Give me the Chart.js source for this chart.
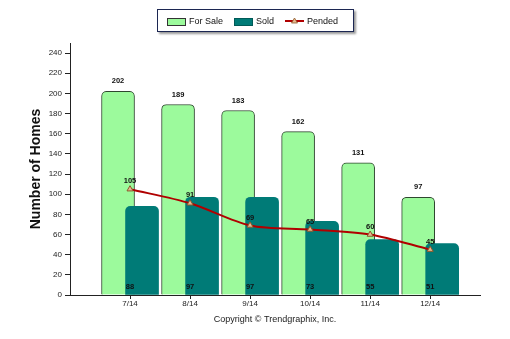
<!doctype html>
<html>

<head>
	<title>Number of Homes - For Sale, Sold, Pended</title>
	<script src="https://cdn.jsdelivr.net/npm/chart.js@4/dist/chart.umd.min.js"></script>
	<style>
		body {
			margin: 0;
			background: #fff;
		}
		#holder {
			position: relative;
			width: 510px;
			height: 339px;
		}
		.legend {
			position: absolute;
			left: 157px;
			top: 9px;
			width: 195px;
			height: 21px;
			border: 1px solid #1c2752;
			background: #fff;
			box-shadow: 2px 2px 2px #9a9a9a;
			font: 9px 'Liberation Sans', Arial, sans-serif;
			color: #111;
		}
		.legend span {
			position: absolute;
		}
		.legend .key {
			top: 8px;
			width: 17px;
			height: 6px;
			border: 1px solid #333;
		}
		.legend .txt {
			top: 5px;
			height: 12px;
			line-height: 12px;
			white-space: nowrap;
		}
	</style>
</head>

<body>
	<div id="holder">
		<canvas id="chart" width="510" height="339"></canvas>
		<div class="legend">
			<span class="key" style="left:9px;background:#9cfa9c;"></span>
			<span class="txt" style="left:31px;">For Sale</span>
			<span class="key" style="left:76px;background:#007b77;border-color:#005a57;"></span>
			<span class="txt" style="left:98px;">Sold</span>
			<span style="left:127px;top:6px;width:19px;height:10px;">
				<svg width="19" height="10"><line x1="0" y1="5" x2="19" y2="5" stroke="#b00000" stroke-width="2"/><path d="M9.5 2 L12.5 7 L6.5 7 Z" fill="#e8b890" stroke="#8b5a2b" stroke-width="0.8"/></svg>
			</span>
			<span class="txt" style="left:149px;">Pended</span>
		</div>
	</div>
	<script>
		var months = ['7/14', '8/14', '9/14', '10/14', '11/14', '12/14'];
		var forSale = [202, 189, 183, 162, 131, 97];
		var sold = [88, 97, 97, 73, 55, 51];
		var pended = [105, 91, 69, 65, 60, 45];
		var yTicksMax = 240;

		var FONT = "'Liberation Sans', Arial, sans-serif";

		// the two bar series sit side by side and overlap a little around each month
		var barShift = 0.2;

		function points(values, shift) {
			return values.map(function(v, i) {
				return {x: i + shift, y: v};
			});
		}

		// numbers over the bars, at the foot of the sold bars and above the pended points
		var valueLabels = {
			id: 'valueLabels',
			afterDatasetsDraw: function(chart) {
				var ctx = chart.ctx;
				var xs = chart.scales.x;
				var ys = chart.scales.y;
				ctx.save();
				ctx.font = 'bold 7.5px ' + FONT;
				ctx.fillStyle = '#111';
				ctx.textAlign = 'center';
				ctx.textBaseline = 'middle';
				chart.getDatasetMeta(0).data.forEach(function(bar, i) {
					ctx.fillText(forSale[i], bar.x, bar.y - 10);
				});
				sold.forEach(function(v, i) {
					ctx.fillText(v, xs.getPixelForValue(i), ys.getPixelForValue(0) - 8);
				});
				chart.getDatasetMeta(2).data.forEach(function(pt, i) {
					ctx.fillText(pended[i], pt.x, pt.y - 8);
				});
				ctx.restore();
			}
		};

		window.onload = function() {
			var chartEl = document.getElementById('chart');
			window.homesChart = new Chart(chartEl, {
				type: 'bar',
				data: {
					datasets: [{
						label: 'For Sale',
						data: points(forSale, -barShift),
						backgroundColor: '#9cfa9c',
						borderColor: '#2f472f',
						borderWidth: 1,
						borderRadius: 5,
						barThickness: 33,
						grouped: false,
						order: 2
					}, {
						label: 'Sold',
						data: points(sold, barShift),
						backgroundColor: '#007b77',
						borderWidth: 0,
						borderRadius: 5,
						barThickness: 33,
						grouped: false,
						order: 1
					}, {
						type: 'line',
						label: 'Pended',
						data: points(pended, 0),
						borderColor: '#b00000',
						borderWidth: 2,
						tension: 0.3,
						fill: false,
						pointStyle: 'triangle',
						pointRadius: 3.5,
						pointBackgroundColor: '#e8b890',
						pointBorderColor: '#8b5a2b',
						pointBorderWidth: 1,
						order: 0
					}]
				},
				options: {
					responsive: false,
					animation: false,
					devicePixelRatio: 1,
					layout: {
						padding: {left: 24, right: 30, top: 43, bottom: 0}
					},
					plugins: {
						legend: {display: false},
						tooltip: {enabled: false}
					},
					scales: {
						x: {
							type: 'linear',
							min: -1,
							max: 5.83,
							offset: false,
							afterFit: function(scale) {
								scale.height = 44;
							},
							afterBuildTicks: function(scale) {
								scale.ticks = scale.ticks.filter(function(t) {
									return t.value >= 0 && t.value < months.length;
								});
							},
							ticks: {
								stepSize: 1,
								autoSkip: false,
								maxRotation: 0,
								padding: 0,
								color: '#222',
								font: {family: FONT, size: 8},
								callback: function(value) {
									return months[value];
								}
							},
							grid: {
								offset: false,
								drawOnChartArea: false,
								tickLength: 4,
								color: '#222'
							},
							border: {color: '#222', width: 1},
							title: {
								display: true,
								text: 'Copyright © Trendgraphix, Inc.',
								color: '#222',
								font: {family: FONT, size: 9},
								padding: {top: 0, bottom: 14}
							}
						},
						y: {
							min: 0,
							max: 250,
							afterFit: function(scale) {
								scale.width = 46;
							},
							afterBuildTicks: function(scale) {
								scale.ticks = scale.ticks.filter(function(t) {
									return t.value <= yTicksMax;
								});
							},
							ticks: {
								stepSize: 20,
								padding: 3,
								color: '#222',
								font: {family: FONT, size: 8}
							},
							grid: {
								drawOnChartArea: false,
								tickLength: 5,
								color: '#222'
							},
							border: {color: '#222', width: 1},
							title: {
								display: true,
								text: 'Number of Homes',
								color: '#111',
								font: {family: FONT, size: 14, weight: 'bold'},
								padding: {top: 4, bottom: 0}
							}
						}
					}
				},
				plugins: [valueLabels]
			});
		};
	</script>
</body>

</html>
